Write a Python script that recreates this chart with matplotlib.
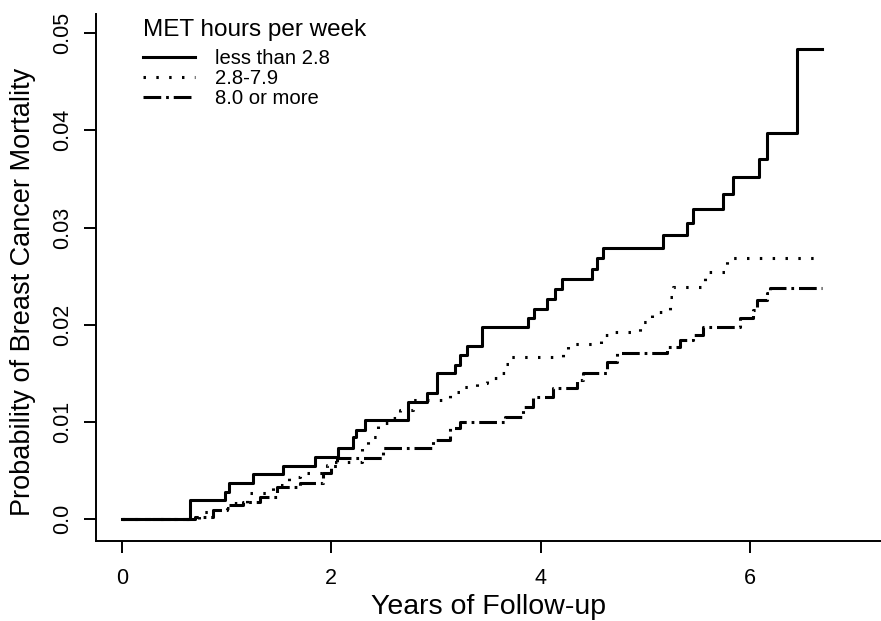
import matplotlib
matplotlib.use("Agg")
import matplotlib.pyplot as plt

plt.rcParams["font.family"] = ["Liberation Sans", "DejaVu Sans"]

# ── data ──────────────────────────────────────────────────
# step times (years) and cumulative probability after each step
low_t = [0.0, 0.65, 0.98, 1.02, 1.25, 1.54, 1.84, 2.06, 2.21, 2.24, 2.32,
         2.73, 2.91, 3.01, 3.18, 3.23, 3.30, 3.44, 3.88, 3.94, 4.06, 4.14,
         4.20, 4.49, 4.54, 4.59, 5.17, 5.40, 5.45, 5.74, 5.84, 6.08, 6.16,
         6.45, 6.69]
low_p = [0.0, 0.0019, 0.0028, 0.0037, 0.0046, 0.0055, 0.0064, 0.0073,
         0.0084, 0.0092, 0.0102, 0.0120, 0.0130, 0.0150, 0.0158, 0.0169,
         0.0178, 0.0198, 0.0207, 0.0216, 0.0226, 0.0237, 0.0247, 0.0257,
         0.0269, 0.0279, 0.0292, 0.0305, 0.0319, 0.0335, 0.0352, 0.0371,
         0.0397, 0.0484, 0.0484]

mid_t = [0.0, 0.74, 0.91, 1.03, 1.19, 1.44, 1.60, 1.70, 1.96, 2.02, 2.29,
         2.35, 2.45, 2.56, 2.66, 2.78, 3.13, 3.25, 3.39, 3.49, 3.58, 3.66,
         3.71, 4.21, 4.26, 4.58, 4.71, 4.95, 5.06, 5.23, 5.26, 5.57, 5.78,
         6.69]
mid_p = [0.0, 0.0007, 0.0011, 0.0016, 0.0027, 0.0035, 0.0043, 0.0047,
         0.0056, 0.0059, 0.0076, 0.0084, 0.0099, 0.0104, 0.0112, 0.0122,
         0.0131, 0.0136, 0.0140, 0.0145, 0.0150, 0.0160, 0.0167, 0.0173,
         0.0180, 0.0189, 0.0192, 0.0203, 0.0213, 0.0228, 0.0239, 0.0254,
         0.0269, 0.0269]

high_t = [0.0, 0.70, 0.87, 1.00, 1.16, 1.32, 1.48, 1.70, 1.92, 2.00, 2.05,
          2.49, 2.97, 3.13, 3.23, 3.66, 3.83, 3.93, 4.12, 4.35, 4.40, 4.63,
          4.73, 5.21, 5.33, 5.45, 5.55, 5.90, 6.03, 6.07, 6.16, 6.19, 6.69]
high_p = [0.0, 0.0002, 0.0009, 0.0014, 0.0017, 0.0023, 0.0033, 0.0037,
          0.0047, 0.0055, 0.0063, 0.0073, 0.0081, 0.0094, 0.0100, 0.0105,
          0.0115, 0.0126, 0.0135, 0.0143, 0.0150, 0.0162, 0.0171, 0.0177,
          0.0184, 0.0189, 0.0198, 0.0207, 0.0215, 0.0225, 0.0233, 0.0238,
          0.0238]

labels = ["less than 2.8", "2.8-7.9", "8.0 or more"]
x_ticks = [0, 2, 4, 6]
y_ticks = [0.0, 0.01, 0.02, 0.03, 0.04, 0.05]
y_tick_labels = ["0.0", "0.01", "0.02", "0.03", "0.04", "0.05"]

fig = plt.figure(figsize=(8.81, 6.21), dpi=100)
ax = fig.add_axes([0.109, 0.129, 0.891, 0.848])

lw = 2.2
ax.step(low_t, low_p, where="post", color="black", lw=lw, label=labels[0])
ax.step(mid_t, mid_p, where="post", color="black", lw=lw,
        linestyle=(0, (0.8, 3.4)), label=labels[1])
ax.step(high_t, high_p, where="post", color="black", lw=lw,
        linestyle=(0, (5.8, 1.6, 0.9, 1.6)), label=labels[2])

ax.set_xlim(-0.248, 7.25)
ax.set_ylim(-0.00226, 0.05195)

for s in ["top", "right"]:
    ax.spines[s].set_visible(False)
for s in ["left", "bottom"]:
    ax.spines[s].set_linewidth(1.4)

ax.set_xticks(x_ticks)
ax.set_yticks(y_ticks)
ax.set_yticklabels(y_tick_labels, rotation=90, va="center")
ax.tick_params(axis="both", direction="out", length=8.5, width=1.4,
               labelsize=15.5)
ax.tick_params(axis="x", pad=11)
ax.tick_params(axis="y", pad=8)

ax.set_xlabel("Years of Follow-up", fontsize=20.5)
ax.set_ylabel("Probability of Breast Cancer Mortality", fontsize=19.5)
ax.xaxis.set_label_coords(0.5, -0.1)
ax.yaxis.set_label_coords(-0.077, 0.4725)

# legend: title as separate text, entries below it
ax.text(0.0599, 0.9696, "MET hours per week", transform=ax.transAxes,
        fontsize=17.5, ha="left", va="center")
ax.legend(loc="upper left", bbox_to_anchor=(0.06, 0.934), frameon=False,
          fontsize=14.6, handlelength=2.55, handletextpad=1.0,
          labelspacing=0.05, borderpad=0, borderaxespad=0)

fig.savefig("out.png", dpi=100)
